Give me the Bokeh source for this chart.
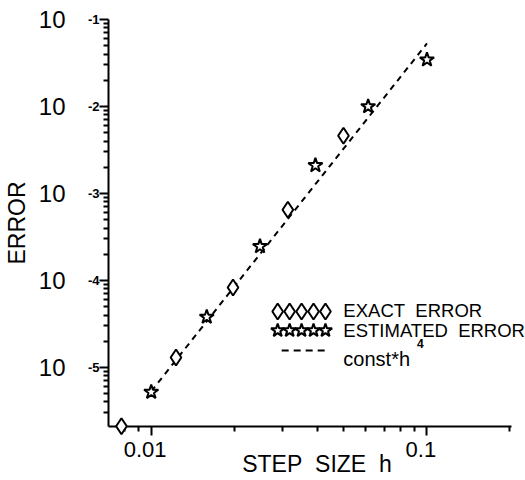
import math
from bokeh.plotting import figure
from bokeh.models import Range1d, FixedTicker, Label, LogAxis
from bokeh.embed import file_html
from bokeh.resources import INLINE

# ---- data ----
exact_h = [0.0078, 0.0123, 0.0198, 0.0313, 0.0498]
exact_err = [2.1e-6, 1.3e-5, 8.3e-5, 6.5e-4, 4.6e-3]
est_h = [0.0100, 0.0159, 0.0248, 0.0394, 0.0612, 0.100]
est_err = [5.2e-6, 3.8e-5, 2.46e-4, 2.1e-3, 1.0e-2, 3.45e-2]
fit_h = [0.0100, 0.100]
fit_err = [5.3e-6, 5.3e-2]

x_major = [0.01, 0.1]
x_major_labels = ["0.01", "0.1"]
x_minor = [0.008, 0.009, 0.02, 0.03, 0.04, 0.05, 0.06, 0.07, 0.08, 0.09, 0.2]
y_major = [1e-5, 1e-4, 1e-3, 1e-2, 1e-1]
y_major_exps = ["-5", "-4", "-3", "-2", "-1"]
y_minor = [k * 10.0 ** e for e in range(-6, -1) for k in range(2, 10)]

x_title = "STEP\u00a0\u00a0SIZE\u00a0\u00a0h"
y_title = "ERROR"
legend_texts = ["EXACT\u00a0\u00a0ERROR", "ESTIMATED\u00a0\u00a0ERROR", "const*h"]
legend_sup = "4"

# ---- layout (page pixels) ----
W, H = 525, 480
FL, FT, FR, FB = 106.0, 19.0, 525.0, 426.0
X0, XEND = 0.00700, 0.2277     # frame x extent (axis line drawn to XAX)
XAX = 0.203
Y0, Y1 = 2.09e-6, 0.1


def xd(px):
    lx0, lx1 = math.log10(X0), math.log10(XEND)
    return 10 ** (lx0 + (px - FL) / (FR - FL) * (lx1 - lx0))


def yd(py):
    ly0, ly1 = math.log10(Y0), math.log10(Y1)
    return 10 ** (ly1 - (py - FT) / (FB - FT) * (ly1 - ly0))


FONT = "Liberation Sans"

p = figure(width=W, height=H, x_axis_type="log", y_axis_type="log",
           x_range=Range1d(X0, XEND), y_range=Range1d(Y0, Y1),
           output_backend="svg", toolbar_location=None,
           min_border_left=int(FL), min_border_right=0,
           min_border_top=int(FT), min_border_bottom=int(H - FB))
p.outline_line_color = None
p.xgrid.visible = False
p.ygrid.visible = False
p.background_fill_color = "white"
p.border_fill_color = "white"

TICKC = "black"


def style_ticks(ax):
    ax.axis_line_width = 2
    ax.axis_line_color = "black"
    ax.major_tick_line_width = 2
    ax.minor_tick_line_width = 2
    ax.major_tick_line_color = TICKC
    ax.minor_tick_line_color = TICKC
    ax.major_tick_in = 0
    ax.major_tick_out = 9
    ax.minor_tick_in = 0
    ax.minor_tick_out = 5


# bottom axis
xa = p.xaxis[0]
xa.ticker = FixedTicker(ticks=x_major, minor_ticks=x_minor)
style_ticks(xa)
xa.bounds = (X0, XAX)
xa.major_label_overrides = {t: s + "\u00a0\u00a0" for t, s in zip(x_major, x_major_labels)}
xa.major_label_text_font = FONT
xa.major_label_text_font_size = "22px"
xa.major_label_text_color = "black"
xa.major_label_standoff = 1
xa.axis_label = x_title
xa.axis_label_text_font = FONT
xa.axis_label_text_font_size = "23px"
xa.axis_label_text_font_style = "normal"
xa.axis_label_text_color = "black"
xa.axis_label_standoff = -14

# left axis: ticks + exponents
ya = p.yaxis[0]
ya.ticker = FixedTicker(ticks=y_major, minor_ticks=y_minor)
style_ticks(ya)
ya.major_label_overrides = {t: e for t, e in zip(y_major, y_major_exps)}
ya.major_label_text_font = FONT
ya.major_label_text_font_size = "13px"
ya.major_label_text_font_style = "bold"
ya.major_label_text_color = "black"
ya.major_label_text_baseline = "alphabetic"
ya.major_label_standoff = 0

# outer left axis: mantissa "10" and title
ya2 = LogAxis(ticker=FixedTicker(ticks=y_major, minor_ticks=[]))
ya2.axis_line_color = None
ya2.major_tick_line_color = None
ya2.minor_tick_line_color = None
ya2.major_tick_out = 0
ya2.major_tick_in = 0
ya2.minor_tick_out = 0
ya2.major_label_overrides = {t: "10" for t in y_major}
ya2.major_label_text_font = FONT
ya2.major_label_text_font_size = "24px"
ya2.major_label_text_color = "black"
ya2.major_label_standoff = 19
ya2.axis_label = y_title
ya2.axis_label_text_font = FONT
ya2.axis_label_text_font_size = "23px"
ya2.axis_label_text_font_style = "normal"
ya2.axis_label_text_color = "black"
ya2.axis_label_standoff = 6
p.add_layout(ya2, "left")

# fit line
p.line(fit_h, fit_err, line_color="black", line_width=2, line_dash="6 5")

# data markers
r1 = p.scatter(exact_h, exact_err, marker="diamond", size=16,
               fill_color="white", line_color="black", line_width=2)
r2 = p.scatter(est_h, est_err, marker="star", size=15,
               fill_color="white", line_color="black", line_width=2)
r1.level = "overlay"
r2.level = "overlay"

# legend
lx = [276, 288, 300, 312, 324]
p.scatter([xd(v) for v in lx], [yd(311)] * 5, marker="diamond", size=16,
          fill_color="white", line_color="black", line_width=2)
p.scatter([xd(v) for v in lx], [yd(330)] * 5, marker="star", size=14,
          fill_color="white", line_color="black", line_width=2)
p.line([xd(280), xd(325)], [yd(350)] * 2, line_color="black", line_width=2,
       line_dash="7 5")
for txt, py in zip(legend_texts[:2], [310, 329.5]):
    p.add_layout(Label(x=xd(342), y=yd(py), text=txt, text_font=FONT,
                       text_font_size="18.5px", text_color="black",
                       text_align="left", text_baseline="middle"))
p.add_layout(Label(x=xd(342), y=yd(358), text=legend_texts[2], text_font=FONT,
                   text_font_size="20px", text_color="black", text_align="left",
                   text_baseline="alphabetic"))
p.add_layout(Label(x=xd(416), y=yd(343), text=legend_sup, text_font=FONT,
                   text_font_size="12px", text_font_style="bold",
                   text_color="black", text_align="left",
                   text_baseline="alphabetic"))

open("out.html", "w").write(file_html(p, INLINE))
